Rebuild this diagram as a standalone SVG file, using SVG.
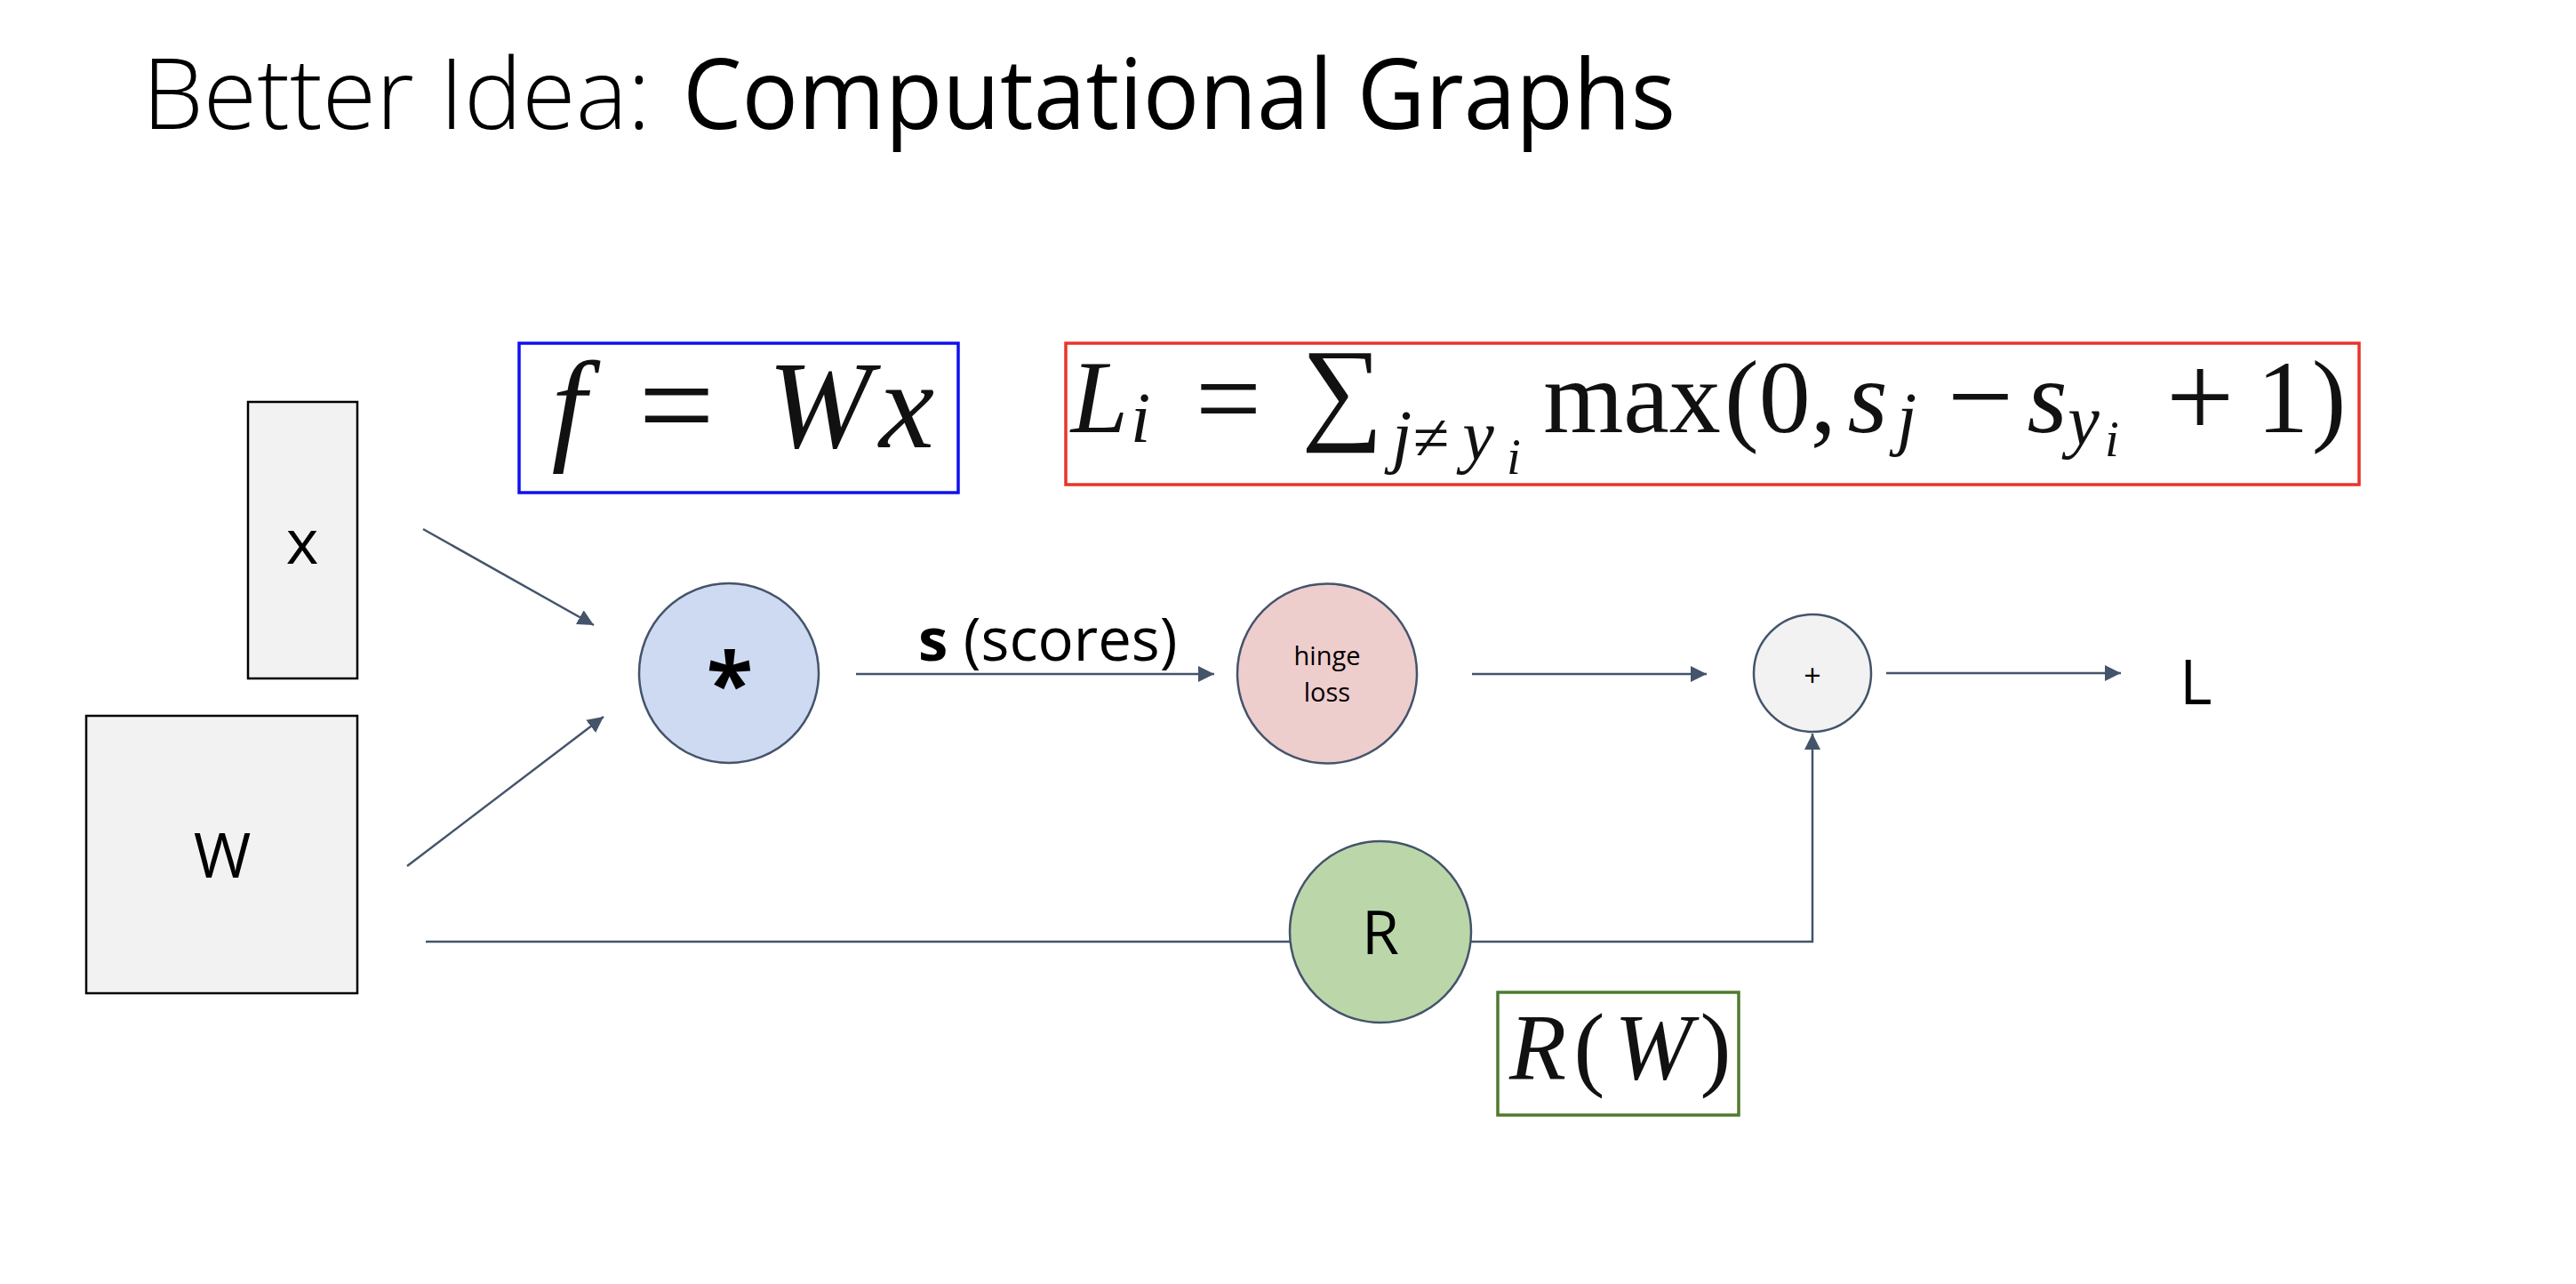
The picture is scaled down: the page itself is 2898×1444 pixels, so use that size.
<svg xmlns="http://www.w3.org/2000/svg" width="2898" height="1444" viewBox="0 0 2898 1444">
<style>
.sans{font-family:"Open Sans","Noto Sans","Liberation Sans",sans-serif;fill:#000}
.math{font-family:"Liberation Serif","DejaVu Serif",serif;fill:#111}
.it{font-style:italic}
.c{text-anchor:middle}
.conn{fill:none;stroke:#44546a;stroke-width:2.5}
.box{fill:#f2f2f2;stroke:#000;stroke-width:2.5}
.node{stroke:#44546a;stroke-width:2.5}
</style>
<defs>
<marker id="ah" viewBox="0 0 10 10" refX="10" refY="5" markerWidth="18" markerHeight="18" markerUnits="userSpaceOnUse" orient="auto">
<path d="M0,0 L10,5 L0,10 z" fill="#44546a"/>
</marker>
</defs>
<rect width="2898" height="1444" fill="#fff"/>
<g id="title">
<text class="sans" x="160" y="145" font-size="110" font-weight="300" textLength="572" lengthAdjust="spacingAndGlyphs">Better Idea:</text>
<text class="sans" x="768" y="145" font-size="110" textLength="1117" lengthAdjust="spacingAndGlyphs">Computational Graphs</text>
</g>
<g id="connectors">
<line class="conn" x1="476" y1="595" x2="668" y2="703" marker-end="url(#ah)"/>
<line class="conn" x1="458" y1="974" x2="679" y2="806" marker-end="url(#ah)"/>
<line class="conn" x1="963" y1="758" x2="1366" y2="758" marker-end="url(#ah)"/>
<line class="conn" x1="1656" y1="758" x2="1920" y2="758" marker-end="url(#ah)"/>
<line class="conn" x1="2122" y1="757" x2="2386" y2="757" marker-end="url(#ah)"/>
<path class="conn" d="M479,1059 H2039 V825" marker-end="url(#ah)"/>
</g>
<g id="node-x">
<rect class="box" x="279" y="452" width="123" height="311"/>
<text class="sans c" x="340" y="634" font-size="70">x</text>
</g>
<g id="node-W">
<rect class="box" x="97" y="805" width="305" height="312"/>
<text class="sans c" x="250" y="987" font-size="70">W</text>
</g>
<g id="node-mul">
<circle class="node" cx="820" cy="757" r="101" fill="#cddaf2"/>
<text class="sans c" x="821" y="804" font-size="96" font-weight="bold">*</text>
</g>
<g id="label-scores">
<text class="sans" x="1033" y="743" font-size="67"><tspan font-weight="bold">s</tspan> (scores)</text>
</g>
<g id="node-hinge">
<circle class="node" cx="1493" cy="757.5" r="101" fill="#eecdcd"/>
<text class="sans c" x="1493" y="748" font-size="29">hinge</text>
<text class="sans c" x="1493" y="789" font-size="29">loss</text>
</g>
<g id="node-plus">
<circle class="node" cx="2039" cy="757" r="66" fill="#f2f2f2"/>
<text class="sans c" x="2039" y="772" font-size="34">+</text>
</g>
<g id="node-L">
<text class="sans" x="2452" y="792" font-size="70">L</text>
</g>
<g id="node-R">
<circle class="node" cx="1553" cy="1048" r="102" fill="#bbd7aa"/>
<text class="sans c" x="1553" y="1073" font-size="68">R</text>
</g>
<g id="formula-f">
<rect x="584" y="386" width="494" height="168" fill="#fff" stroke="#1010f0" stroke-width="3.5"/>
<text class="math it c" x="640" y="503" font-size="140">f</text>
<text class="math c" x="761" y="507" font-size="152">=</text>
<text class="math it c" x="922" y="503" font-size="140">W</text>
<text class="math it c" x="1020" y="503" font-size="140">x</text>
</g>
<g id="formula-L">
<rect x="1199" y="386" width="1455" height="159" fill="#fff" stroke="#e8352a" stroke-width="3.5"/>
<text class="math it c" x="1237" y="486" font-size="116">L</text>
<text class="math it c" x="1283" y="497" font-size="80">i</text>
<text class="math c" x="1382" y="492" font-size="132">=</text>
<text class="math c" x="1510" y="482" font-size="129">∑</text>
<text class="math it c" x="1577" y="517" font-size="80">j</text>
<text class="math c" x="1610" y="517" font-size="74">≠</text>
<text class="math it c" x="1663" y="517" font-size="80">y</text>
<text class="math it c" x="1703" y="533" font-size="57">i</text>
<text class="math c" x="1836" y="486" font-size="116">max</text>
<text class="math" x="1940" y="486" font-size="116">(0,</text>
<text class="math it c" x="2101" y="486" font-size="116">s</text>
<text class="math it c" x="2145" y="497" font-size="80">j</text>
<text class="math c" x="2228" y="490" font-size="132">−</text>
<text class="math it c" x="2303" y="486" font-size="116">s</text>
<text class="math it c" x="2344" y="500" font-size="80">y</text>
<text class="math it c" x="2376" y="513" font-size="57">i</text>
<text class="math c" x="2475" y="492" font-size="136">+</text>
<text class="math c" x="2568" y="486" font-size="116">1</text>
<text class="math c" x="2620" y="486" font-size="116">)</text>
</g>
<g id="formula-R">
<rect x="1685" y="1116" width="271" height="138" fill="#fff" stroke="#4e7b2e" stroke-width="3.5"/>
<text class="math it c" x="1730" y="1213" font-size="105">R</text>
<text class="math c" x="1788" y="1213" font-size="105">(</text>
<text class="math it c" x="1860" y="1213" font-size="105">W</text>
<text class="math c" x="1930" y="1213" font-size="105">)</text>
</g>
</svg>
